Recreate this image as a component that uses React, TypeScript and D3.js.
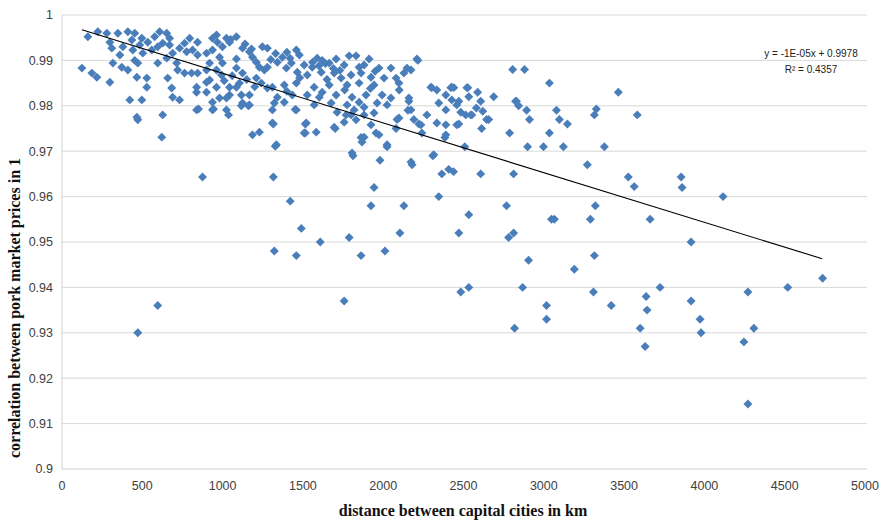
import React, { useEffect, useRef } from 'react';
import * as d3 from 'd3';

// distance (km), correlation
const nearPoints: [number, number][] = [
  [161, 0.9952], [223, 0.9963], [279, 0.996], [298, 0.994], [348, 0.996], [410, 0.9963], [453, 0.996],
  [435, 0.9945], [497, 0.9949], [484, 0.9934], [534, 0.994], [577, 0.9952], [608, 0.9963], [652, 0.996],
  [627, 0.9938], [670, 0.9934], [596, 0.993], [559, 0.9923], [503, 0.9916], [441, 0.9923], [379, 0.993],
  [310, 0.9927], [360, 0.9912], [453, 0.99], [124, 0.9883], [186, 0.9872], [217, 0.9863], [298, 0.9852],
  [317, 0.9894], [372, 0.9885], [410, 0.9879], [466, 0.9863], [528, 0.9861], [472, 0.9894], [422, 0.9813],
  [497, 0.9813], [528, 0.9841], [466, 0.9775], [472, 0.9769], [627, 0.978], [621, 0.9731], [658, 0.9861],
  [596, 0.9894], [652, 0.9905], [689, 0.9916], [732, 0.9927], [763, 0.9938], [795, 0.9949], [670, 0.9949],
  [714, 0.9894], [720, 0.9879], [763, 0.9872], [807, 0.9872], [844, 0.9872], [683, 0.9839], [689, 0.9819],
  [732, 0.9813], [776, 0.9919], [813, 0.9923], [844, 0.994], [844, 0.9912], [900, 0.9916], [919, 0.9894],
  [900, 0.9879], [937, 0.9949], [962, 0.9956], [968, 0.994], [999, 0.993], [1024, 0.9949], [1086, 0.9952],
  [1043, 0.994], [937, 0.9923], [981, 0.9907], [999, 0.9894], [962, 0.9879], [993, 0.9868], [919, 0.9857],
  [900, 0.9852], [838, 0.9841], [838, 0.983], [900, 0.983], [962, 0.9841], [1043, 0.9841], [1086, 0.9841],
  [1105, 0.985], [1043, 0.9824], [937, 0.9808], [981, 0.9817], [1024, 0.9791], [1024, 0.9817], [937, 0.9791],
  [838, 0.9791], [1124, 0.9806], [1167, 0.9802], [1117, 0.9824], [1167, 0.9824], [1186, 0.9736], [1229, 0.9742],
  [1124, 0.9927], [1167, 0.9919], [1186, 0.9907], [1210, 0.9896], [1229, 0.9885], [1248, 0.993], [1260, 0.9879],
  [1210, 0.9861], [1241, 0.985], [1086, 0.9883], [1124, 0.9872], [1086, 0.9903], [1037, 0.978], [1161, 0.98],
  [1117, 0.98], [850, 0.9793], [943, 0.9793], [1316, 0.976], [1328, 0.9711], [1050, 0.9946], [1140, 0.9936],
  [1180, 0.9925], [1200, 0.9842], [1150, 0.9858], [1060, 0.9866], [1010, 0.9855],
];

const midPoints: [number, number][] = [
  [1279, 0.9927], [1459, 0.9923], [1478, 0.9912], [1372, 0.9907], [1589, 0.9905], [1620, 0.99], [1707, 0.9903],
  [1788, 0.991], [1831, 0.991], [1912, 0.9903], [2210, 0.9903], [2148, 0.9883], [2048, 0.9883], [1974, 0.9883],
  [1881, 0.989], [1757, 0.989], [1664, 0.9894], [1558, 0.9885], [1508, 0.989], [1428, 0.9894], [1341, 0.9896],
  [1279, 0.9885], [1397, 0.9883], [1465, 0.9874], [1527, 0.9868], [1614, 0.9874], [1695, 0.9872], [1738, 0.9861],
  [1800, 0.9868], [1862, 0.9872], [1924, 0.9863], [2005, 0.9861], [2080, 0.9861], [2129, 0.9872], [2173, 0.9879],
  [2098, 0.985], [1943, 0.9846], [1850, 0.985], [1775, 0.9846], [1664, 0.9846], [1570, 0.9841], [1459, 0.985],
  [1384, 0.9846], [1310, 0.9841], [1279, 0.9839], [1341, 0.9819], [1434, 0.9824], [1527, 0.9824], [1602, 0.9819],
  [1707, 0.9824], [1806, 0.9819], [1893, 0.9824], [1993, 0.9824], [2048, 0.9817], [2160, 0.9817], [1322, 0.9806],
  [1384, 0.9808], [1570, 0.9802], [1676, 0.9806], [1775, 0.9802], [1881, 0.9797], [1962, 0.9806], [2024, 0.9802],
  [2173, 0.9791], [1310, 0.9791], [1459, 0.9791], [1713, 0.9786], [1819, 0.9791], [1881, 0.978], [1943, 0.9784],
  [2098, 0.9773], [1831, 0.9769], [1757, 0.9764], [1695, 0.9753], [1521, 0.9762], [1508, 0.974], [1583, 0.9742],
  [1310, 0.9762], [1335, 0.9714], [1881, 0.9731], [1924, 0.9758], [1974, 0.9736], [2024, 0.9714], [1806, 0.9696],
  [2173, 0.9676], [2315, 0.9692], [1452, 0.9792], [1515, 0.976], [1515, 0.974], [1701, 0.975], [1769, 0.978],
  [1800, 0.978], [2086, 0.977], [2154, 0.979], [2160, 0.981], [2191, 0.977], [2222, 0.976], [2241, 0.974],
  [2080, 0.975], [1955, 0.974], [1868, 0.972], [1862, 0.973], [2216, 0.99], [1400, 0.9918], [1420, 0.9905],
  [1640, 0.9893], [1730, 0.9878], [1560, 0.9896], [1600, 0.9888], [1690, 0.9882], [1850, 0.9885], [1950, 0.9876],
  [1330, 0.9915], [1300, 0.9902], [1480, 0.9862], [1650, 0.9858], [1760, 0.9835], [1920, 0.9838], [2100, 0.9835],
  [1400, 0.9832], [1620, 0.983], [1850, 0.9808],
];

const farPoints: [number, number][] = [
  [2297, 0.9841], [2334, 0.9835], [2390, 0.9824], [2427, 0.9813], [2458, 0.9802], [2427, 0.9841], [2346, 0.9806],
  [2390, 0.9791], [2483, 0.9786], [2334, 0.9762], [2390, 0.9758], [2458, 0.9758], [2390, 0.9736], [2272, 0.978],
  [2235, 0.9758], [2303, 0.984], [2421, 0.984], [2527, 0.984], [2588, 0.983], [2688, 0.982], [2806, 0.988],
  [2880, 0.988], [3035, 0.985], [2824, 0.981], [2843, 0.98], [2893, 0.979], [2911, 0.977], [3079, 0.979],
  [3097, 0.977], [3147, 0.976], [2787, 0.974], [3035, 0.974], [2899, 0.971], [2998, 0.971], [3122, 0.971],
  [2613, 0.975], [2657, 0.977], [2545, 0.978], [2514, 0.978], [2471, 0.976], [2384, 0.973], [2508, 0.971],
  [2309, 0.969], [3464, 0.983], [3327, 0.9793], [3315, 0.978], [3582, 0.978], [3377, 0.971], [3271, 0.967],
  [2830, 0.981], [2644, 0.977], [2521, 0.984], [2607, 0.981], [2533, 0.982], [2552, 0.978], [2471, 0.981],
  [2440, 0.984], [2580, 0.9795], [2620, 0.9788],
];

const outlierPoints: [number, number][] = [
  [472, 0.93], [596, 0.936], [875, 0.9643], [1316, 0.9643], [1322, 0.948], [1421, 0.959], [1459, 0.947],
  [1490, 0.953], [1608, 0.95], [1757, 0.937], [1788, 0.951], [1862, 0.947], [1924, 0.958], [1943, 0.962],
  [2011, 0.948], [2104, 0.952], [2129, 0.958], [1980, 0.968], [2346, 0.96], [2365, 0.965], [2408, 0.966],
  [2471, 0.952], [2483, 0.939], [2533, 0.94], [2533, 0.956], [2607, 0.965], [2768, 0.958], [2781, 0.951],
  [2812, 0.952], [2812, 0.965], [2818, 0.931], [2868, 0.94], [2905, 0.946], [3017, 0.936], [3017, 0.933],
  [3048, 0.955], [3066, 0.955], [3190, 0.944], [3290, 0.955], [3309, 0.939], [3315, 0.947], [3321, 0.958],
  [3420, 0.936], [3526, 0.9643], [3563, 0.9622], [3600, 0.931], [3631, 0.927], [3637, 0.938], [3643, 0.935],
  [3662, 0.955], [3724, 0.94], [3855, 0.9643], [3861, 0.962], [3917, 0.95], [3917, 0.937], [3973, 0.933],
  [3979, 0.93], [4116, 0.96], [4246, 0.928], [4271, 0.939], [4271, 0.9143], [4308, 0.931], [4519, 0.94],
  [4736, 0.942], [2180, 0.967], [2024, 0.971], [1812, 0.969], [2438, 0.9655],
];

const xTicks = [0, 500, 1000, 1500, 2000, 2500, 3000, 3500, 4000, 4500, 5000];
const yTicks = [0.9, 0.91, 0.92, 0.93, 0.94, 0.95, 0.96, 0.97, 0.98, 0.99, 1];

// linear trend
const trendSlope = -1.094e-5;
const trendIntercept = 0.9981;
const trendRange = [124, 4733];

const equationLines = ['y = -1E-05x + 0.9978', 'R² = 0.4357'];

const W = 882;
const H = 521;

const App = () => {
  const svgRef = useRef<SVGSVGElement>(null);

  useEffect(() => {
    const svg = d3.select(svgRef.current);
    svg.selectAll('*').remove();

    const x = d3.scaleLinear().domain([0, 5000]).range([62, 865]);
    const y = d3.scaleLinear().domain([0.9, 1]).range([469, 15]);
    const tickFont = '"Liberation Sans", Arial, sans-serif';

    // gridlines
    svg.append('g')
      .selectAll('line')
      .data(yTicks.slice(1))
      .enter()
      .append('line')
      .attr('x1', 62)
      .attr('x2', 867)
      .attr('y1', (d) => y(d))
      .attr('y2', (d) => y(d))
      .attr('stroke', '#d9d9d9')
      .attr('stroke-width', 1);

    // axes lines
    svg.append('line')
      .attr('x1', 62).attr('x2', 867)
      .attr('y1', y(0.9)).attr('y2', y(0.9))
      .attr('stroke', '#d0d0d0');
    svg.append('line')
      .attr('x1', 62).attr('x2', 62)
      .attr('y1', y(1)).attr('y2', y(0.9))
      .attr('stroke', '#d0d0d0');

    // y tick labels
    svg.append('g')
      .selectAll('text')
      .data(yTicks)
      .enter()
      .append('text')
      .attr('x', 53)
      .attr('y', (d) => y(d))
      .attr('dy', '0.35em')
      .attr('text-anchor', 'end')
      .attr('font-family', tickFont)
      .attr('font-size', 12.5)
      .attr('fill', '#404040')
      .text((d) => d3.format('~g')(+d.toFixed(2)));

    // x tick labels
    svg.append('g')
      .selectAll('text')
      .data(xTicks)
      .enter()
      .append('text')
      .attr('x', (d) => x(d))
      .attr('y', 490)
      .attr('text-anchor', 'middle')
      .attr('font-family', tickFont)
      .attr('font-size', 12.5)
      .attr('fill', '#404040')
      .text((d) => String(d));

    // points
    const all = [...nearPoints, ...midPoints, ...farPoints, ...outlierPoints];
    const diamond = d3.symbol().type(d3.symbolSquare).size(40);
    svg.append('g')
      .selectAll('path')
      .data(all)
      .enter()
      .append('path')
      .attr('d', diamond)
      .attr('transform', (d) => `translate(${x(d[0])},${y(d[1])}) rotate(45)`)
      .attr('fill', '#4a7ebb');

    // trend line
    const line = d3.line<number>()
      .x((d) => x(d))
      .y((d) => y(trendIntercept + trendSlope * d));
    svg.append('path')
      .attr('d', line(trendRange))
      .attr('fill', 'none')
      .attr('stroke', '#000')
      .attr('stroke-width', 1.1);

    // equation label
    svg.append('g')
      .selectAll('text')
      .data(equationLines)
      .enter()
      .append('text')
      .attr('x', 811)
      .attr('y', (d, i) => 57 + i * 16)
      .attr('text-anchor', 'middle')
      .attr('font-family', tickFont)
      .attr('font-size', 10)
      .attr('fill', '#222')
      .text((d) => d);

    // axis titles
    svg.append('text')
      .attr('x', 463)
      .attr('y', 516)
      .attr('text-anchor', 'middle')
      .attr('font-family', '"Liberation Serif", "Times New Roman", serif')
      .attr('font-weight', 'bold')
      .attr('font-size', 16)
      .attr('fill', '#111')
      .text('distance between capital cities in km');

    svg.append('text')
      .attr('transform', 'translate(20,308) rotate(-90)')
      .attr('text-anchor', 'middle')
      .attr('font-family', '"Liberation Serif", "Times New Roman", serif')
      .attr('font-weight', 'bold')
      .attr('font-size', 16)
      .attr('fill', '#111')
      .text('correlation between pork market prices in 1');
  }, []);

  return (
    <svg
      ref={svgRef}
      width={W}
      height={H}
      style={{ position: 'absolute', left: 0, top: 0, background: '#fff' }}
    ></svg>
  );
};

export default App;
